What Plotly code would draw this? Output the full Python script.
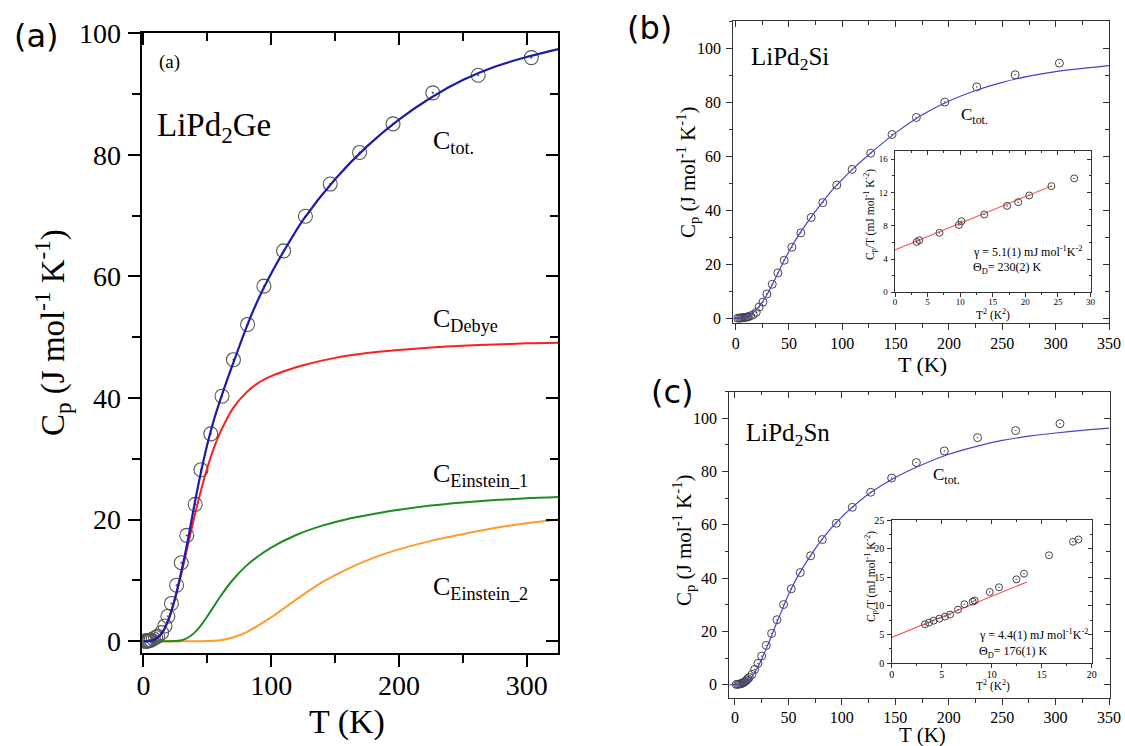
import plotly.graph_objects as go

W, H = 1125, 746

# ---------------- Panel (a): LiPd2Ge ----------------
Ta_data = [1.0, 1.8, 2.6, 3.4, 4.2, 5.0, 6.0, 7.7, 9.5, 11.1, 14.2, 16.8, 19.1, 21.9, 25.9, 29.6,
           33.9, 40.5, 45.0, 52.7, 61.5, 70.4, 81.5, 94.3, 109.7, 126.8, 146.2, 169.2, 195.4,
           226.5, 262.1, 303.7]
Cpa_data = [0.0, 0.0, 0.0, 0.05, 0.08, 0.12, 0.2, 0.4, 0.6, 0.8, 1.4, 2.5, 4.1, 6.2, 9.2, 12.9,
            17.4, 22.5, 28.2, 34.1, 40.3, 46.3, 52.1, 58.4, 64.2, 69.9, 75.2, 80.4, 85.1,
            90.2, 93.1, 96.0]

Ta_tot = [0, 5, 10, 15, 20, 25, 30, 35, 40, 45, 50, 55, 60, 65, 70, 80, 90, 100, 110, 125, 150,
          175, 200, 225, 250, 275, 300, 325]
Cpa_tot = [0, 0.05, 0.4, 1.5, 3.8, 7.3, 11.8, 16.9, 22.6, 27.8, 32.4, 36.3, 39.6, 42.7, 45.6,
           51.3, 56.3, 60.5, 64.2, 69.3, 76.0, 81.4, 85.8, 89.4, 92.3, 94.5, 96.1, 97.4]

Ta_debye = [0, 5, 10, 15, 20, 25, 30, 35, 40, 45, 50, 55, 60, 70, 80, 90, 100, 110, 125, 150,
            175, 200, 225, 250, 275, 300, 325]
Cpa_debye = [0, 0.05, 0.4, 1.5, 3.8, 7.2, 11.4, 16.0, 20.6, 24.8, 28.5, 31.7, 34.3, 38.3, 40.8,
             42.5, 43.6, 44.4, 45.4, 46.6, 47.4, 47.9, 48.3, 48.6, 48.8, 49.0, 49.1]

Ta_e1 = [0, 10, 20, 25, 30, 35, 40, 45, 50, 55, 60, 70, 80, 90, 100, 120, 140, 160, 180, 200,
         225, 250, 275, 300, 325]
Cpa_e1 = [0, 0, 0, 0.03, 0.15, 0.6, 1.4, 2.6, 4.1, 5.7, 7.3, 10.1, 12.3, 14.0, 15.4, 17.5, 19.0,
          20.1, 20.9, 21.6, 22.3, 22.8, 23.2, 23.5, 23.7]

Ta_e2 = [0, 20, 40, 50, 60, 70, 80, 90, 100, 110, 120, 140, 160, 180, 200, 225, 250, 275, 300,
         325]
Cpa_e2 = [0, 0, 0, 0.03, 0.15, 0.6, 1.4, 2.6, 3.9, 5.4, 6.9, 9.7, 11.9, 13.7, 15.1, 16.5, 17.6,
          18.6, 19.4, 20.0]

# ---------------- Panel (b): LiPd2Si ----------------
Tb_data = [1.9, 3.5, 4.7, 6.0, 7.2, 8.5, 9.7, 11.0, 11.9, 14.0, 16.5, 19.3, 22.1, 25.6, 29.3,
           34.3, 39.6, 45.5, 52.7, 61.1, 70.8, 81.7, 94.8, 109.2, 126.6, 146.6, 169.4, 196.0,
           226.0, 262.0, 303.5]
Cpb_data = [0.05, 0.08, 0.12, 0.18, 0.25, 0.32, 0.4, 0.5, 0.6, 0.9, 1.4, 2.2, 4.2, 6.0, 9.0,
            12.6, 16.8, 21.5, 26.3, 31.6, 37.3, 42.8, 49.3, 55.1, 61.1, 68.0, 74.3, 80.0,
            85.6, 90.1, 94.4]
Tb_fit = [-2, 0, 5, 10, 15, 20, 25, 30, 35, 40, 45, 50, 60, 70, 80, 90, 100, 110, 125, 150, 175,
          200, 225, 250, 275, 300, 325, 350]
Cpb_fit = [0, 0, 0.1, 0.6, 1.7, 3.5, 6.0, 9.2, 13.0, 17.0, 21.0, 24.8, 31.4, 37.0, 42.2, 47.2,
           51.4, 55.3, 60.6, 68.6, 75.3, 80.4, 84.3, 87.3, 89.6, 91.3, 92.5, 93.5]

T2b_data = [3.33, 3.74, 6.82, 9.8, 10.2, 13.7, 17.2, 18.9, 20.6, 24.0, 27.5]
CTb_data = [6.06, 6.27, 7.15, 8.1, 8.55, 9.36, 10.4, 10.84, 11.65, 12.77, 13.7]
T2b_line = [0, 24.0]
CTb_line = [5.1, 12.8]

# ---------------- Panel (c): LiPd2Sn ----------------
Tc_data = [1.2, 2.6, 4.0, 5.2, 6.5, 7.6, 8.7, 9.8, 10.9, 12.1, 13.4, 15.9, 18.4, 21.5, 25.0,
           29.3, 34.3, 39.3, 45.5, 52.7, 61.1, 70.8, 81.7, 94.8, 109.8, 127.0, 146.6, 169.7,
           195.9, 227.0, 262.6, 304.1]
Cpc_data = [0.1, 0.15, 0.25, 0.35, 0.5, 0.7, 1.0, 1.3, 1.75, 2.2, 2.75, 3.9, 5.75, 8.0, 10.75,
            14.75, 19.25, 24.4, 30.1, 36.0, 42.1, 48.4, 54.5, 60.6, 66.6, 72.25, 77.6, 83.4,
            87.75, 92.75, 95.4, 98.0]
Tc_fit = [-5, 0, 5, 10, 15, 20, 25, 30, 35, 40, 45, 50, 60, 70, 80, 90, 100, 110, 125, 150, 175,
          200, 225, 250, 275, 300, 325, 350]
Cpc_fit = [0, 0, 0.15, 0.9, 2.6, 5.6, 9.6, 14.2, 19.2, 24.2, 29.0, 33.8, 41.6, 48.0, 53.8, 58.8,
           63.0, 66.7, 71.6, 77.8, 82.6, 86.5, 89.4, 91.7, 93.3, 94.5, 95.5, 96.3]

T2c_data = [3.33, 3.73, 4.2, 4.77, 5.33, 5.83, 6.63, 7.27, 8.1, 8.3, 9.8, 10.73, 12.47, 13.23,
            15.73, 18.13, 18.67]
CTc_data = [6.8, 7.1, 7.44, 7.8, 8.14, 8.5, 9.36, 10.3, 10.76, 10.93, 12.44, 13.26, 14.65,
            15.64, 18.84, 21.2, 21.6]
T2c_line = [0, 13.5]
CTc_line = [4.5, 14.2]

SERIF = "Liberation Serif"
SANS = "DejaVu Sans"

fig = go.Figure()


def ax(i):
    return ("x" if i == 1 else f"x{i}"), ("y" if i == 1 else f"y{i}")


def add(i, x, y, **kw):
    xa, ya = ax(i)
    fig.add_trace(go.Scatter(x=x, y=y, xaxis=xa, yaxis=ya, showlegend=False,
                             hoverinfo="skip", **kw))


SPL = dict(shape="spline", smoothing=0.8)

# Panel (a) traces
add(1, Ta_e2, Cpa_e2, mode="lines", line=dict(color="#ff9a2e", width=2, **SPL))
add(1, Ta_e1, Cpa_e1, mode="lines", line=dict(color="#1e8c1e", width=2, **SPL))
add(1, Ta_debye, Cpa_debye, mode="lines", line=dict(color="#ff1e1e", width=2, **SPL))
add(1, Ta_data, Cpa_data, mode="markers",
    marker=dict(symbol="circle-open-dot", size=14, color="#555", line=dict(width=1.1)))
add(1, Ta_tot, Cpa_tot, mode="lines", line=dict(color="#1c1ca8", width=2.2, **SPL))

# Panel (b)
add(2, Tb_data, Cpb_data, mode="markers",
    marker=dict(symbol="circle-open-dot", size=8, color="#444", line=dict(width=1)))
add(2, Tb_fit, Cpb_fit, mode="lines", line=dict(color="#4444cc", width=1.2, **SPL))

# Panel (c)
add(3, Tc_data, Cpc_data, mode="markers",
    marker=dict(symbol="circle-open-dot", size=8, color="#444", line=dict(width=1)))
add(3, Tc_fit, Cpc_fit, mode="lines", line=dict(color="#4444cc", width=1.2, **SPL))

# Inset (b)
add(4, T2b_line, CTb_line, mode="lines", line=dict(color="#ff6060", width=1.1))
add(4, T2b_data, CTb_data, mode="markers",
    marker=dict(symbol="circle-open-dot", size=7, color="#444", line=dict(width=1)))

# Inset (c)
add(5, T2c_line, CTc_line, mode="lines", line=dict(color="#ff4040", width=1.1))
add(5, T2c_data, CTc_data, mode="markers",
    marker=dict(symbol="circle-open-dot", size=7, color="#444", line=dict(width=1)))

# subplot geometry in pixels: (left, right), (top, bottom), ranges, tick specs
panels = {
    1: dict(px=(141.7, 558.3), py=(33.3, 653.3), xr=[-1.4, 324.8], yr=[-2.0, 100],
            xt=[0, 100, 200, 300], yt=[0, 20, 40, 60, 80, 100], xm=50, ym=10,
            fs=28, lw=2, tl=12, mtl=8, xso=-6, yso=1, col="black"),
    2: dict(px=(733.3, 1109.0), py=(21.0, 323.3), xr=[-2.2, 350], yr=[-1.85, 110],
            xt=[0, 50, 100, 150, 200, 250, 300, 350], yt=[0, 20, 40, 60, 80, 100], xm=25, ym=10,
            fs=16, lw=1.2, tl=6, mtl=3.5, xso=-1, yso=2, col="#333"),
    3: dict(px=(729.3, 1110.0), py=(391.7, 698.3), xr=[-5.3, 350.9], yr=[-5.1, 110],
            xt=[0, 50, 100, 150, 200, 250, 300, 350], yt=[0, 20, 40, 60, 80, 100], xm=25, ym=10,
            fs=16, lw=1.2, tl=6, mtl=3.5, xso=-2, yso=2, col="#333"),
    4: dict(px=(895.0, 1090.5), py=(151.0, 292.3), xr=[0, 30], yr=[0, 17],
            xt=[0, 5, 10, 15, 20, 25, 30], yt=[0, 4, 8, 12, 16], xm=2.5, ym=2,
            fs=9, lw=1, tl=3.5, mtl=2, xso=-3, yso=1, col="#333"),
    5: dict(px=(891.7, 1091.7), py=(520.0, 663.3), xr=[0, 20], yr=[0, 25],
            xt=[0, 5, 10, 15, 20], yt=[0, 5, 10, 15, 20, 25], xm=2.5, ym=2.5,
            fs=10, lw=1, tl=3.5, mtl=2, xso=-2, yso=1, col="#333"),
}

layout = dict(width=W, height=H, margin=dict(l=0, r=0, t=0, b=0, pad=0, autoexpand=False),
              paper_bgcolor="white", plot_bgcolor="white", showlegend=False)

for i, p in panels.items():
    dx = [p["px"][0] / W, p["px"][1] / W]
    dy = [1 - p["py"][1] / H, 1 - p["py"][0] / H]
    xa, ya = ax(i)
    xname = "xaxis" if i == 1 else f"xaxis{i}"
    yname = "yaxis" if i == 1 else f"yaxis{i}"
    tickfont = dict(family=SERIF, size=p["fs"], color="black")
    common = dict(showgrid=False, zeroline=False, showline=True, linecolor=p["col"],
                  linewidth=p["lw"], tickcolor=p["col"], tickwidth=p["lw"], fixedrange=True,
                  automargin=False)
    layout[xname] = dict(domain=dx, anchor=ya, range=p["xr"], tickvals=p["xt"],
                         ticks="outside", ticklen=p["tl"], tickfont=tickfont,
                         ticklabelstandoff=p["xso"],
                         minor=dict(tick0=0, dtick=p["xm"], ticks="outside",
                                    ticklen=p["mtl"], tickcolor=p["col"], tickwidth=p["lw"]),
                         **common)
    layout[yname] = dict(domain=dy, anchor=xa, range=p["yr"], tickvals=p["yt"],
                         ticks="outside", ticklen=p["tl"], tickfont=tickfont,
                         ticklabelstandoff=p["yso"],
                         minor=dict(tick0=0, dtick=p["ym"], ticks="outside",
                                    ticklen=p["mtl"], tickcolor=p["col"], tickwidth=p["lw"]),
                         **common)
    # mirrored axes (top / right) with inward ticks
    j = i + 5
    layout[f"xaxis{j}"] = dict(overlaying=xa, side="top", anchor=ya, range=p["xr"],
                               tickvals=p["xt"], ticks="inside", ticklen=p["tl"],
                               showticklabels=False,
                               minor=dict(tick0=0, dtick=p["xm"], ticks="inside",
                                          ticklen=p["mtl"], tickcolor=p["col"],
                                          tickwidth=p["lw"]),
                               **common)
    layout[f"yaxis{j}"] = dict(overlaying=ya, side="right", anchor=xa, range=p["yr"],
                               tickvals=p["yt"], ticks="inside", ticklen=p["tl"],
                               showticklabels=False,
                               minor=dict(tick0=0, dtick=p["ym"], ticks="inside",
                                          ticklen=p["mtl"], tickcolor=p["col"],
                                          tickwidth=p["lw"]),
                               **common)
    fig.add_trace(go.Scatter(x=[], y=[], xaxis=f"x{j}", yaxis=f"y{j}", showlegend=False,
                             hoverinfo="skip"))


def txt(x, y, s, size, family=SERIF, xanchor="left", yanchor="middle", angle=0, color="black"):
    return dict(x=x / W, y=1 - y / H, xref="paper", yref="paper", text=s, showarrow=False,
                xanchor=xanchor, yanchor=yanchor, textangle=angle,
                font=dict(family=family, size=size, color=color))


ann = [
    # outer panel labels
    txt(36, 36, "(a)", 32, SANS, xanchor="center"),
    txt(650, 28, "(b)", 32, SANS, xanchor="center"),
    txt(672, 392, "(c)", 32, SANS, xanchor="center"),
    # panel (a)
    txt(157, 62, "(a)", 19),
    txt(155, 127, "LiPd<sub>2</sub>Ge", 33),
    txt(431, 142, "C<sub>tot.</sub>", 26),
    txt(431, 320, "C<sub>Debye</sub>", 26),
    txt(431, 475, "C<sub>Einstein_1</sub>", 26),
    txt(431, 588, "C<sub>Einstein_2</sub>", 26),
    txt(52, 333, "C<sub>p</sub> (J mol<sup>-1</sup> K<sup>-1</sup>)", 33, xanchor="center",
        angle=-90),
    txt(347, 722, "T (K)", 34, xanchor="center"),
    # panel (b)
    txt(749, 59, "LiPd<sub>2</sub>Si", 25),
    txt(959, 116, "C<sub>tot.</sub>", 17),
    txt(688, 172, "C<sub>p</sub> (J mol<sup>-1</sup> K<sup>-1</sup>)", 21, xanchor="center",
        angle=-90),
    txt(922, 364, "T (K)", 22, xanchor="center"),
    txt(971, 251, "γ = 5.1(1) mJ mol<sup>-1</sup>K<sup>-2</sup>", 12),
    txt(971, 268, "Θ<sub>D</sub>= 230(2) K", 12),
    txt(870, 215, "C<sub>p</sub>/T (mJ mol<sup>-1</sup> K<sup>-2</sup>)", 11.5, xanchor="center",
        angle=-90),
    txt(993, 315, "T<sup>2</sup> (K<sup>2</sup>)", 11.5, xanchor="center"),
    # panel (c)
    txt(744, 434, "LiPd<sub>2</sub>Sn", 25),
    txt(931, 476, "C<sub>tot.</sub>", 17),
    txt(683, 540, "C<sub>p</sub> (J mol<sup>-1</sup> K<sup>-1</sup>)", 21, xanchor="center",
        angle=-90),
    txt(922, 735, "T (K)", 21, xanchor="center"),
    txt(977, 634, "γ = 4.4(1) mJ mol<sup>-1</sup>K<sup>-2</sup>", 12),
    txt(977, 652, "Θ<sub>D</sub>= 176(1) K", 12),
    txt(871, 577, "C<sub>p</sub>/T (mJ mol<sup>-1</sup> K<sup>-2</sup>)", 11.5, xanchor="center",
        angle=-90),
    txt(993, 685, "T<sup>2</sup> (K<sup>2</sup>)", 11.5, xanchor="center"),
]
layout["annotations"] = ann

fig.update_layout(**layout)
fig.write_html("out.html")
